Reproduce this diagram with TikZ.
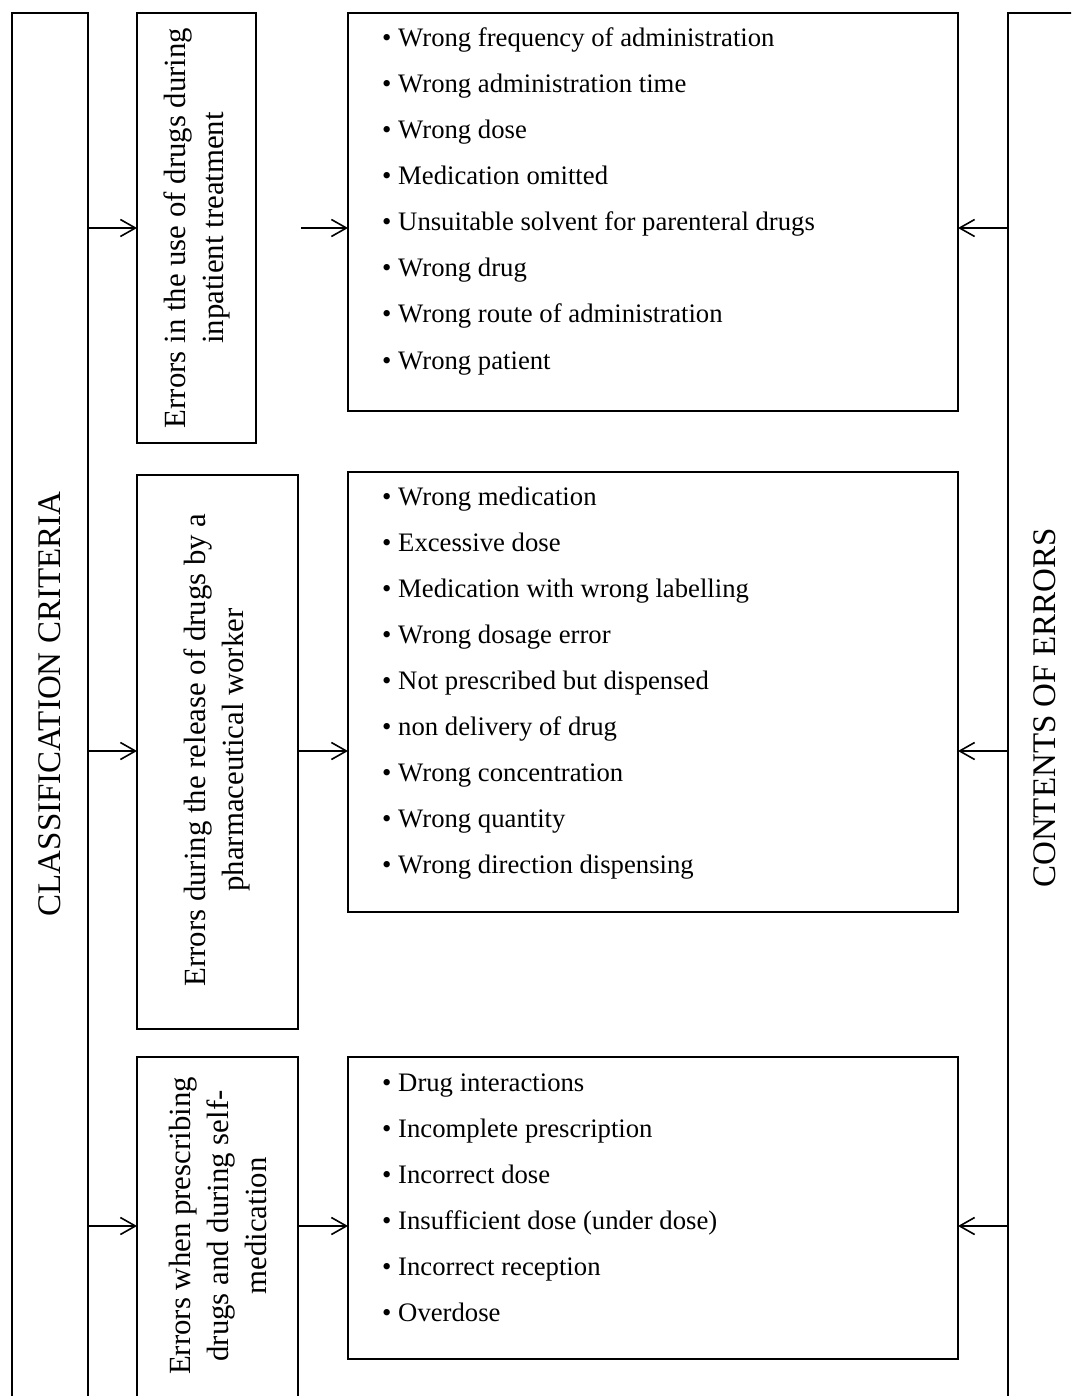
\documentclass[tikz,border=0pt]{standalone}
\usepackage{fontspec}
\setmainfont{Liberation Serif}
\usetikzlibrary{arrows.meta}
\begin{document}
\begin{tikzpicture}[x=1pt,y=-1pt,
  box/.style={draw, line width=1.9pt, rectangle, inner sep=0pt, outer sep=0pt},
  vtext/.style={rotate=90, align=center, inner sep=0pt, font=\fontsize{30.8pt}{38pt}\selectfont},
  bartext/.style={rotate=90, inner sep=0pt, anchor=base, font=\fontsize{33pt}{40pt}\selectfont},
  item/.style={anchor=base west, inner sep=0pt, font=\fontsize{26.7pt}{46pt}\selectfont},
  arr/.style={line width=1.6pt, -{Straight Barb[length=15pt,width=17pt]}}
]
\useasboundingbox (0,0) rectangle (1071,1396);
\clip (0,0) rectangle (1071,1396);

% bars
\node[box, minimum width=76pt, minimum height=1386pt] (LB) at (50,706) {};
\node[box, minimum width=72pt, minimum height=1386pt] (RB) at (1044,706) {};
\node[bartext] (LBt) at (60,704) {CLASSIFICATION CRITERIA};
\node[bartext] (RBt) at (1055,708) {CONTENTS OF ERRORS};

% category boxes
\node[box, minimum width=119pt, minimum height=430pt] (A1) at (196.5,228) {};
\node[box, minimum width=161pt, minimum height=554pt] (B1) at (217.5,752) {};
\node[box, minimum width=161pt, minimum height=343pt] (C1) at (217.5,1228.5) {};
\node[vtext] (A1t) at (196.5,228) {Errors in the use of drugs during\\inpatient treatment};
\node[vtext] (B1t) at (216.5,750) {Errors during the release of drugs by a\\pharmaceutical worker};
\node[vtext] (C1t) at (217.5,1226) {Errors when prescribing\\drugs and during self-\\medication};

% list boxes
\node[box, minimum width=610pt, minimum height=398pt] (L1) at (653,212) {};
\node[box, minimum width=610pt, minimum height=440pt] (L2) at (653,692) {};
\node[box, minimum width=610pt, minimum height=302pt] (L3) at (653,1208) {};

\foreach \t [count=\i] in {Wrong frequency of administration, Wrong administration time, Wrong dose, Medication omitted, Unsuitable solvent for parenteral drugs, Wrong drug, Wrong route of administration, Wrong patient}
  \node[item] (l1-\i) at (382,{47+46*(\i-1)}) {• \t};
\foreach \t [count=\i] in {Wrong medication, Excessive dose, Medication with wrong labelling, Wrong dosage error, Not prescribed but dispensed, non delivery of drug, Wrong concentration, Wrong quantity, Wrong direction dispensing}
  \node[item] (l2-\i) at (382,{505+46*(\i-1)}) {• \t};
\foreach \t [count=\i] in {Drug interactions, Incomplete prescription, Incorrect dose, Insufficient dose (under dose), Incorrect reception, Overdose}
  \node[item] (l3-\i) at (382,{1091+46*(\i-1)}) {• \t};

% rows
\coordinate (r1) at (0,228);
\coordinate (r2) at (0,751);
\coordinate (r3) at (0,1226);
\coordinate (m1) at (301,228);

\draw[arr] (LB.east |- r1) -- (A1.west |- r1);
\draw[arr] (m1) -- (L1.west |- r1);
\draw[arr] (RB.west |- r1) -- (L1.east |- r1);

\draw[arr] (LB.east |- r2) -- (B1.west |- r2);
\draw[arr] (B1.east |- r2) -- (L2.west |- r2);
\draw[arr] (RB.west |- r2) -- (L2.east |- r2);

\draw[arr] (LB.east |- r3) -- (C1.west |- r3);
\draw[arr] (C1.east |- r3) -- (L3.west |- r3);
\draw[arr] (RB.west |- r3) -- (L3.east |- r3);
\end{tikzpicture}
\end{document}
